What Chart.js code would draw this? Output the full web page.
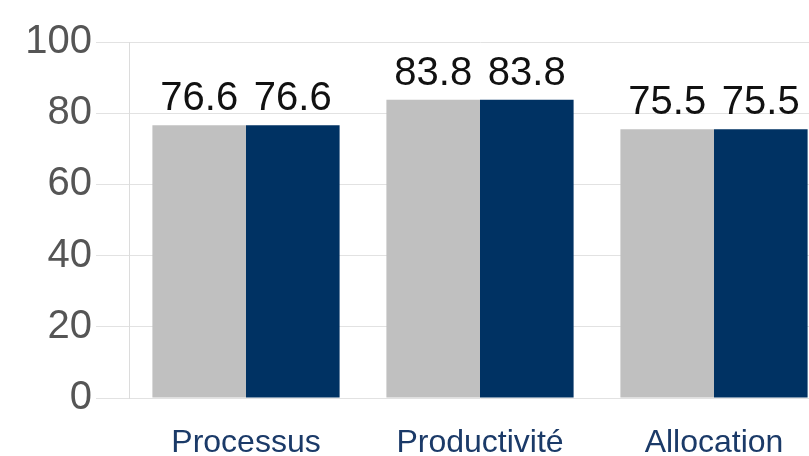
<!DOCTYPE html>
<html>
<head>
<meta charset="utf-8">
<script src="https://cdn.jsdelivr.net/npm/chart.js@4/dist/chart.umd.min.js"></script>
<style>
  html, body { margin: 0; padding: 0; background: #fff; overflow: hidden; }
  #chart { display: block; }
</style>
</head>
<body>
<canvas id="chart" width="832" height="456"></canvas>
<script>
// data
var categories = ["Processus", "Productivité", "Allocation"];
var seriesA = [76.6, 83.8, 75.5];
var seriesB = [76.6, 83.8, 75.5];
var yTicks = [0, 20, 40, 60, 80, 100];

var FONT = "'Liberation Sans', Arial, Helvetica, sans-serif";

// draws the value above every bar
var valueLabels = {
  id: 'valueLabels',
  afterDatasetsDraw: function (chart) {
    var ctx = chart.ctx;
    ctx.save();
    ctx.font = "40px " + FONT;
    ctx.fillStyle = "#111";
    ctx.textAlign = "center";
    ctx.textBaseline = "alphabetic";
    chart.data.datasets.forEach(function (ds, i) {
      chart.getDatasetMeta(i).data.forEach(function (bar, j) {
        ctx.fillText(ds.data[j].toFixed(1), bar.x, bar.y - 15);
      });
    });
    ctx.restore();
  }
};

new Chart(document.getElementById("chart"), {
  type: 'bar',
  data: {
    labels: categories,
    datasets: [
      { data: seriesA, backgroundColor: "#c0c0c0", categoryPercentage: 0.8, barPercentage: 1.0 },
      { data: seriesB, backgroundColor: "#003263", categoryPercentage: 0.8, barPercentage: 1.0 }
    ]
  },
  options: {
    responsive: false,
    animation: false,
    layout: { padding: { top: 42, left: 0, right: 1, bottom: 0 } },
    plugins: { legend: { display: false }, tooltip: { enabled: false } },
    scales: {
      x: {
        grid: { display: false, drawTicks: false, tickLength: 0 },
        border: { display: false },
        ticks: { color: "#1b3a68", font: { family: FONT, size: 32 }, padding: 26 },
        afterFit: function (s) { s.height = 58; }
      },
      y: {
        min: 0,
        max: 100,
        afterBuildTicks: function (s) { s.ticks = yTicks.map(function (v) { return { value: v }; }); },
        grid: { color: "#e2e2e2", lineWidth: 1, tickLength: 33 },
        border: { display: true, color: "#dcdcdc" },
        ticks: { color: "#555", font: { family: FONT, size: 40 }, padding: 4 },
        afterFit: function (s) { s.width = 129; }
      }
    }
  },
  plugins: [valueLabels]
});
</script>
</body>
</html>
